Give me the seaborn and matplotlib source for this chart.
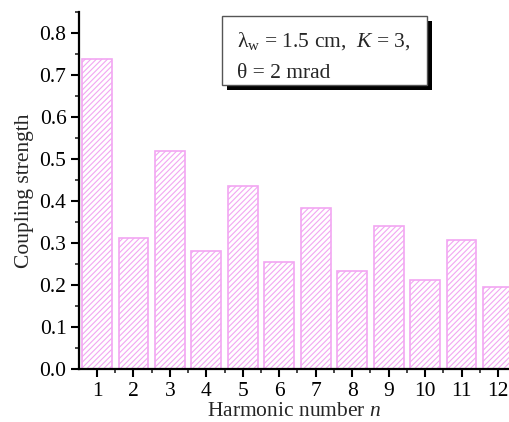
import pandas as pd
import matplotlib.pyplot as plt
import seaborn as sns
from matplotlib.ticker import MultipleLocator
from matplotlib.patches import Rectangle

harmonic = [1, 2, 3, 4, 5, 6, 7, 8, 9, 10, 11, 12]
coupling = [0.738, 0.311, 0.519, 0.281, 0.436, 0.255, 0.383, 0.233, 0.341, 0.213, 0.307, 0.195]
y_ticks = [0.0, 0.1, 0.2, 0.3, 0.4, 0.5, 0.6, 0.7, 0.8]
y_tick_labels = ['0.0', '0.1', '0.2', '0.3', '0.4', '0.5', '0.6', '0.7', '0.8']

df = pd.DataFrame({'n': harmonic, 'coupling': coupling})

sns.set_theme(style='ticks')
plt.rcParams['font.family'] = ['Liberation Serif', 'DejaVu Serif']
plt.rcParams['mathtext.fontset'] = 'custom'
plt.rcParams['mathtext.rm'] = 'Liberation Serif'
plt.rcParams['mathtext.it'] = 'Liberation Serif:italic'
plt.rcParams['hatch.color'] = '#f9d6f9'
plt.rcParams['hatch.linewidth'] = 0.8

W, H = 510, 422
fig = plt.figure(figsize=(5.1, 4.22), dpi=100)
ax = fig.add_axes([79 / W, 53 / H, 431 / W, 357 / H])

sns.barplot(data=df, x='n', y='coupling', native_scale=True, width=0.82,
            color='white', linewidth=1.2, ax=ax)
for bar in ax.patches:
    bar.set_hatch('//////')
    bar.set_facecolor('white')
    bar.set_edgecolor('#f2a6f2')

ax.set_xlim(0.506, 12.33)
ax.set_ylim(0, 0.85)
ax.xaxis.set_major_locator(MultipleLocator(1))
ax.xaxis.set_minor_locator(MultipleLocator(0.5))
ax.yaxis.set_minor_locator(MultipleLocator(0.05))
ax.set_yticks(y_ticks)
ax.set_yticklabels(y_tick_labels)

ax.tick_params(axis='both', which='major', direction='out', length=6, width=1.5,
               labelsize=15.5, colors='black', pad=3)
ax.tick_params(axis='both', which='minor', direction='out', length=3, width=1.2)
for s in ['left', 'bottom']:
    ax.spines[s].set_linewidth(1.6)
    ax.spines[s].set_color('black')
sns.despine(ax=ax)

ax.set_xlabel('Harmonic number $n$', fontsize=15.5, labelpad=1)
ax.set_ylabel('Coupling strength', fontsize=15.5, labelpad=4)

# annotation box with drop shadow (pixel coords from the top-left)
bx0, bx1, by0, by1 = 222, 427, 16, 85
fig.patches.append(Rectangle(((bx0 + 5) / W, 1 - (by1 + 5) / H), (bx1 - bx0) / W,
                             (by1 - by0) / H, transform=fig.transFigure,
                             facecolor='black', edgecolor='none', zorder=5))
fig.patches.append(Rectangle((bx0 / W, 1 - by1 / H), (bx1 - bx0) / W, (by1 - by0) / H,
                             transform=fig.transFigure, facecolor='white',
                             edgecolor='#555555', linewidth=1.0, zorder=6))
fig.text(237 / W, 1 - 47 / H, 'λ$_{\\rm w}$ = 1.5 cm,  $K$ = 3,', fontsize=15.5,
         va='baseline', ha='left', zorder=7)
fig.text(237 / W, 1 - 78 / H, 'θ = 2 mrad', fontsize=15.5,
         va='baseline', ha='left', zorder=7)

fig.savefig('out.png', dpi=100)
